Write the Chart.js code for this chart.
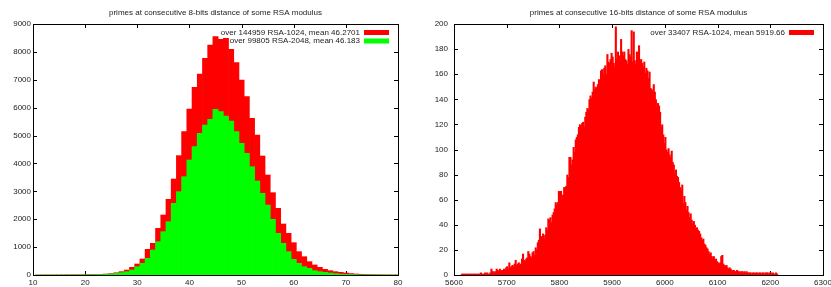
<!DOCTYPE html>
<html>
<head>
<meta charset="utf-8">
<script src="https://cdn.jsdelivr.net/npm/chart.js@4.4.1/dist/chart.umd.min.js"></script>
<style>
  html, body { margin: 0; padding: 0; background: #fff; }
  #wrap { position: relative; width: 831px; height: 287px; overflow: hidden; }
  canvas { position: absolute; top: 0; }
</style>
</head>
<body>
<div id="wrap">
  <canvas id="chart8" width="415" height="287" style="left:0"></canvas>
  <canvas id="chart16" width="416" height="287" style="left:415px"></canvas>
</div>
<script>
// --- 8-bits distance histogram (one bin per unit) ---
const dist8 = [
  11, 12, 13, 14, 15, 16, 17, 18, 19,
  20, 21, 22, 23, 24, 25, 26, 27,
  28, 29, 30, 31, 32, 33, 34, 35, 36, 37, 38, 39, 40,
  41, 42, 43, 44, 45, 46, 47, 48, 49, 50,
  51, 52, 53, 54, 55, 56, 57, 58, 59, 60,
  61, 62, 63, 64, 65, 66, 67, 68, 69, 70,
  71, 72, 73, 74, 75, 76, 77, 78, 79, 80
];
const rsa1024_8 = [
  2, 3, 3, 4, 5, 6, 7, 8, 9,
  10, 14, 18, 25, 35, 50, 80, 120,
  179, 275, 394, 574, 920, 1135, 1673, 2151, 2713, 3442, 4280, 5140, 5953,
  6730, 7208, 7770, 8248, 8546, 8451, 8487, 8092, 7614, 6993,
  6395, 5618, 5020, 4267, 3586, 2952, 2391, 1829, 1494, 1159,
  837, 657, 478, 359, 275, 203, 155, 120, 96, 72,
  50, 36, 26, 19, 14, 10, 7, 5, 4, 3
];
const rsa2048_8 = [
  0, 0, 0, 1, 1, 2, 2, 3, 4,
  5, 8, 11, 16, 25, 38, 58, 85,
  120, 179, 299, 418, 598, 896, 1195, 1554, 1912, 2570, 2988, 3526, 4124,
  4602, 5080, 5379, 5582, 5941, 5857, 5702, 5523, 5140, 4720,
  4362, 3884, 3371, 2928, 2510, 1996, 1494, 1135, 837, 562,
  418, 299, 239, 155, 120, 96, 72, 50, 35, 25,
  17, 12, 8, 6, 4, 3, 2, 2, 1, 1
];

// --- 16-bits distance histogram, read every 2 units from 5615 ---
const dist16Start = 5615;
const dist16Step = 2;
const rsa1024_16 = [
  1, 1, 1, 1, 1, 1, 1, 1, 1, 1,
  1, 1, 1, 1, 1, 1, 1, 1, 2, 1,
  1, 1, 2, 1, 2, 1, 1, 2, 5, 3,
  3, 2, 3, 5, 4, 3, 5, 4, 3, 4,
  5, 4, 6, 7, 5, 10, 6, 7, 8, 7,
  9, 12, 8, 9, 10, 8, 9, 13, 17, 12,
  11, 13, 14, 19, 17, 15, 14, 18, 19, 16,
  22, 20, 26, 28, 37, 31, 30, 33, 29, 32,
  38, 36, 45, 44, 46, 42, 48, 50, 53, 58,
  56, 58, 67, 66, 67, 61, 64, 70, 70, 71,
  80, 78, 94, 94, 88, 92, 102, 98, 108, 110,
  112, 118, 120, 118, 121, 122, 118, 126, 130, 133,
  132, 140, 143, 141, 146, 154, 148, 150, 149, 152,
  156, 150, 163, 164, 160, 165, 167, 160, 176, 170,
  169, 172, 177, 174, 169, 166, 198, 172, 178, 175,
  171, 188, 178, 175, 178, 172, 171, 168, 180, 176,
  174, 195, 170, 194, 171, 168, 178, 175, 183, 171,
  172, 169, 166, 170, 161, 165, 163, 157, 162, 149,
  148, 147, 152, 146, 140, 133, 137, 135, 130, 118,
  120, 112, 105, 110, 100, 98, 101, 96, 94, 99,
  90, 88, 81, 84, 79, 78, 74, 70, 68, 72,
  57, 63, 58, 52, 55, 50, 46, 49, 44, 41,
  43, 40, 37, 38, 36, 35, 33, 30, 28, 29,
  25, 24, 22, 21, 19, 17, 18, 15, 14, 15,
  12, 13, 11, 10, 9, 10, 15, 16, 9, 8,
  7, 8, 6, 5, 6, 5, 4, 3, 4, 3,
  3, 4, 3, 3, 2, 3, 3, 2, 3, 2,
  3, 2, 2, 2, 2, 1, 2, 2, 1, 2,
  2, 1, 2, 2, 1, 2, 2, 1, 2, 2,
  2, 1, 2, 2, 1, 2, 1, 1, 2, 1
];

Chart.defaults.font.family = "'Liberation Sans', Arial, sans-serif";
Chart.defaults.font.size = 8;
Chart.defaults.color = "#222";

// gnuplot look: inner tics, border, centred title and right-aligned key
const gnuplotFrame = {
  id: "gnuplotFrame",
  beforeDatasetsDraw(chart) {
    const { ctx, chartArea: a, scales: { x, y } } = chart;
    ctx.save();
    ctx.strokeStyle = "#000";
    ctx.lineWidth = 1;
    ctx.beginPath();
    x.ticks.forEach(t => {
      const px = Math.round(x.getPixelForValue(t.value)) + 0.5;
      ctx.moveTo(px, a.bottom); ctx.lineTo(px, a.bottom - 4);
      ctx.moveTo(px, a.top); ctx.lineTo(px, a.top + 4);
    });
    y.ticks.forEach(t => {
      const py = Math.round(y.getPixelForValue(t.value)) + 0.5;
      ctx.moveTo(a.left, py); ctx.lineTo(a.left + 4, py);
      ctx.moveTo(a.right, py); ctx.lineTo(a.right - 4, py);
    });
    ctx.stroke();
    ctx.restore();
  },
  afterDatasetsDraw(chart) {
    const { ctx, chartArea: a } = chart;
    ctx.save();
    ctx.strokeStyle = "#000";
    ctx.lineWidth = 1;
    ctx.strokeRect(Math.round(a.left) + 0.5, Math.round(a.top) + 0.5,
      Math.round(a.right - a.left), Math.round(a.bottom - a.top));
    ctx.restore();
  },
  afterDraw(chart, args, opts) {
    const { ctx, chartArea: a } = chart;
    ctx.save();
    ctx.font = "8px 'Liberation Sans', Arial, sans-serif";
    ctx.fillStyle = "#222";
    ctx.textAlign = "center";
    ctx.textBaseline = "middle";
    ctx.fillText(opts.title, (a.left + a.right) / 2, 13);
    // key, in dataset order
    ctx.textAlign = "right";
    chart.data.datasets.forEach((ds, i) => {
      const yc = a.top + 8.5 + i * 8.5;
      const bx = a.right - 9 - 25;
      ctx.fillStyle = "#222";
      ctx.fillText(ds.label, bx - 4, yc);
      ctx.fillStyle = ds.backgroundColor;
      ctx.fillRect(bx, yc - 2.5, 25, 5);
    });
    ctx.restore();
  }
};

function axisFit(w) {
  return {
    x: s => { s.height = 12; s.paddingLeft = 0; s.paddingRight = 0; },
    y: s => { s.width = w; s.paddingTop = 0; s.paddingBottom = 0; }
  };
}

function baseOptions(title, xMin, xMax, xStep, yMax, yStep, yWidth, yPad, padRight) {
  const fit = axisFit(yWidth);
  return {
    responsive: false,
    animation: false,
    layout: { padding: { top: 24, right: padRight, left: 0, bottom: 0 } },
    plugins: {
      legend: { display: false },
      tooltip: { enabled: false },
      gnuplotFrame: { title: title }
    },
    scales: {
      x: {
        type: "linear", min: xMin, max: xMax, offset: false,
        grid: { display: false, drawTicks: false }, border: { display: false },
        ticks: { stepSize: xStep, padding: 3, autoSkip: false, maxRotation: 0,
          format: { useGrouping: false } },
        afterFit: fit.x
      },
      y: {
        min: 0, max: yMax,
        grid: { display: false, drawTicks: false }, border: { display: false },
        ticks: { stepSize: yStep, padding: yPad, autoSkip: false,
          format: { useGrouping: false } },
        afterFit: fit.y
      }
    }
  };
}

new Chart(document.getElementById("chart8"), {
  type: "bar",
  data: {
    datasets: [
      {
        label: "over 144959 RSA-1024, mean 46.2701",
        data: dist8.map((d, i) => ({ x: d, y: rsa1024_8[i] })),
        backgroundColor: "#ff0000",
        barPercentage: 1, categoryPercentage: 1, borderWidth: 0, grouped: false,
        order: 2
      },
      {
        label: "over 99805 RSA-2048, mean 46.183",
        data: dist8.map((d, i) => ({ x: d, y: rsa2048_8[i] })),
        backgroundColor: "#00ff00",
        barPercentage: 1, categoryPercentage: 1, borderWidth: 0, grouped: false,
        order: 1
      }
    ]
  },
  options: baseOptions("primes at consecutive 8-bits distance of some RSA modulus",
    10, 80, 10, 9000, 1000, 33, 2, 17),
  plugins: [gnuplotFrame]
});

new Chart(document.getElementById("chart16"), {
  type: "bar",
  data: {
    datasets: [
      {
        label: "over 33407 RSA-1024, mean 5919.66",
        data: rsa1024_16.map((v, i) => ({ x: dist16Start + i * dist16Step, y: v })),
        backgroundColor: "#ff0000",
        // overlap neighbours so the 1px-wide bars leave no antialiasing seams
        barPercentage: 2, categoryPercentage: 1, borderWidth: 0, grouped: false
      }
    ]
  },
  options: baseOptions("primes at consecutive 16-bits distance of some RSA modulus",
    5600, 6300, 100, 200, 20, 39, 6, 8),
  plugins: [gnuplotFrame]
});
</script>
</body>
</html>
